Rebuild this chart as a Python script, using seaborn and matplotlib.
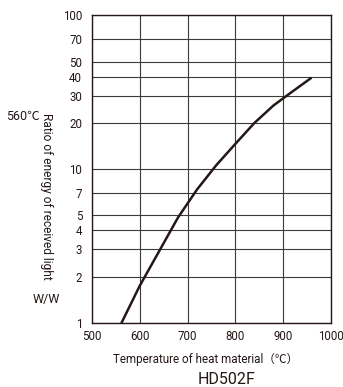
import matplotlib
matplotlib.use("Agg")
import matplotlib.pyplot as plt
import seaborn as sns
import pandas as pd
from matplotlib.ticker import FixedLocator, NullLocator

temperature = [562, 600, 640, 680, 720, 760, 800, 840, 880, 920, 958]
ratio = [1.0, 1.74, 2.90, 4.84, 7.38, 10.6, 14.6, 20.0, 26.0, 32.1, 39.1]
x_ticks = [500, 600, 700, 800, 900, 1000]
y_ticks = [1, 2, 3, 4, 5, 7, 10, 20, 30, 40, 50, 70, 100]

sns.set_style("white")
plt.rcParams['font.family'] = ['Roboto', 'Noto Sans CJK JP', 'DejaVu Sans']

df = pd.DataFrame({"T": temperature, "R": ratio})

fig = plt.figure(figsize=(3.43, 3.87), dpi=100)
ax = fig.add_axes([0.268, 0.166, 0.697, 0.794])

line_col = "#231815"
sns.lineplot(data=df, x="T", y="R", ax=ax, color=line_col, linewidth=1.8)

ax.set_yscale("log")
ax.set_xlim(500, 1000)
ax.set_ylim(1, 100)
ax.xaxis.set_major_locator(FixedLocator(x_ticks))
ax.yaxis.set_major_locator(FixedLocator(y_ticks))
ax.yaxis.set_minor_locator(NullLocator())
ax.set_xticklabels([str(v) for v in x_ticks])
ax.set_yticklabels([str(v) for v in y_ticks])
ax.tick_params(axis="both", length=0, labelsize=8.3, colors="#231815")
ax.tick_params(axis="y", pad=7)
ax.tick_params(axis="x", pad=5)
ax.grid(True, which="major", color="#3a3a3a", linewidth=0.8)
for s in ax.spines.values():
    s.set_color("#231815")
    s.set_linewidth(1.0)
ax.set_xlabel("")
ax.set_ylabel("")

fig.text(206 / 343, 1 - 360 / 387, "Temperature of heat material（℃）", ha="center", va="center",
         fontsize=8.4, color="#231815")
fig.text(227 / 343, 1 - 380 / 387, "HD502F", ha="center", va="center", fontsize=11.5, color="#231815")
fig.text(46 / 343, 1 - 196 / 387, "Ratio of energy of received light", ha="center", va="center",
         rotation=-90, fontsize=8.6, color="#231815")
fig.text(23 / 343, 1 - 116 / 387, "560℃", ha="center", va="center", fontsize=9, color="#231815")
fig.text(46 / 343, 1 - 299 / 387, "W/W", ha="center", va="center", fontsize=9, color="#231815")

fig.savefig("out.png", dpi=100)
